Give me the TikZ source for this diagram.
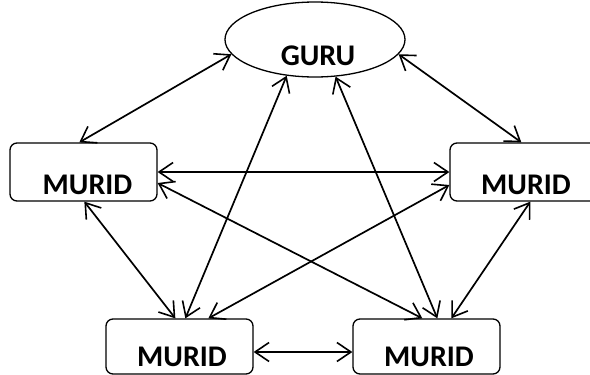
\documentclass[tikz,border=0pt]{standalone}
\usepackage{fontspec}
\setmainfont{Carlito}
\usetikzlibrary{arrows.meta,shapes.geometric}
\tikzset{
  box/.style={draw, line width=1.3pt, rounded corners=7pt, minimum width=147pt, minimum height=58pt, inner sep=0pt},
  oval/.style={draw, ellipse, line width=1.3pt, minimum width=180pt, minimum height=75pt, inner sep=0pt},
  lbl/.style={font=\fontsize{30}{30}\selectfont\bfseries, inner sep=0pt},
  link/.style={line width=1.7pt, {Straight Barb[length=14pt,width=19pt,line width=1.6pt]}-{Straight Barb[length=14pt,width=19pt,line width=1.6pt]}}
}
\begin{document}
\begin{tikzpicture}[x=1pt,y=1pt]
\useasboundingbox (0,0) rectangle (590,-375);
\fill[white] (0,0) rectangle (590,-375);
% shapes
\node[oval] (G) at (315,-39.5) {};
\node[box] (L) at (83.5,-172) {};
\node[box] (R) at (523.5,-172) {};
\node[box, minimum height=55pt] (BL) at (179.5,-346.5) {};
\node[box, minimum height=55pt] (BR) at (426.5,-346.5) {};
% texts
\node[lbl] (tG) at (318,-56) {GURU};
\node[lbl] (tL) at (87.5,-185) {MURID};
\node[lbl] (tR) at (526,-185) {MURID};
\node[lbl] (tBL) at (182,-357) {MURID};
\node[lbl] (tBR) at (429,-357) {MURID};
% connectors
\draw[link] ([xshift=70pt]L.north west) -- (G.190);
\draw[link] (G.-10) -- ([xshift=72pt]R.north west);
\draw[link] (L.east) -- (R.west);
\draw[link] ([yshift=-11pt]L.east) -- ([xshift=70pt]BR.north west);
\draw[link] ([yshift=-13pt]R.west) -- ([xshift=103pt]BL.north west);
\draw[link] (G.-128) -- ([xshift=80pt]BL.north west);
\draw[link] (G.-61) -- ([xshift=85pt]BR.north west);
\draw[link] ([xshift=75pt]L.south west) -- ([xshift=70pt]BL.north west);
\draw[link] ([xshift=81pt]R.south west) -- ([xshift=99pt]BR.north west);
\draw[link] ([yshift=-5.5pt]BL.east) -- ([yshift=-5.5pt]BR.west);
\end{tikzpicture}
\end{document}
